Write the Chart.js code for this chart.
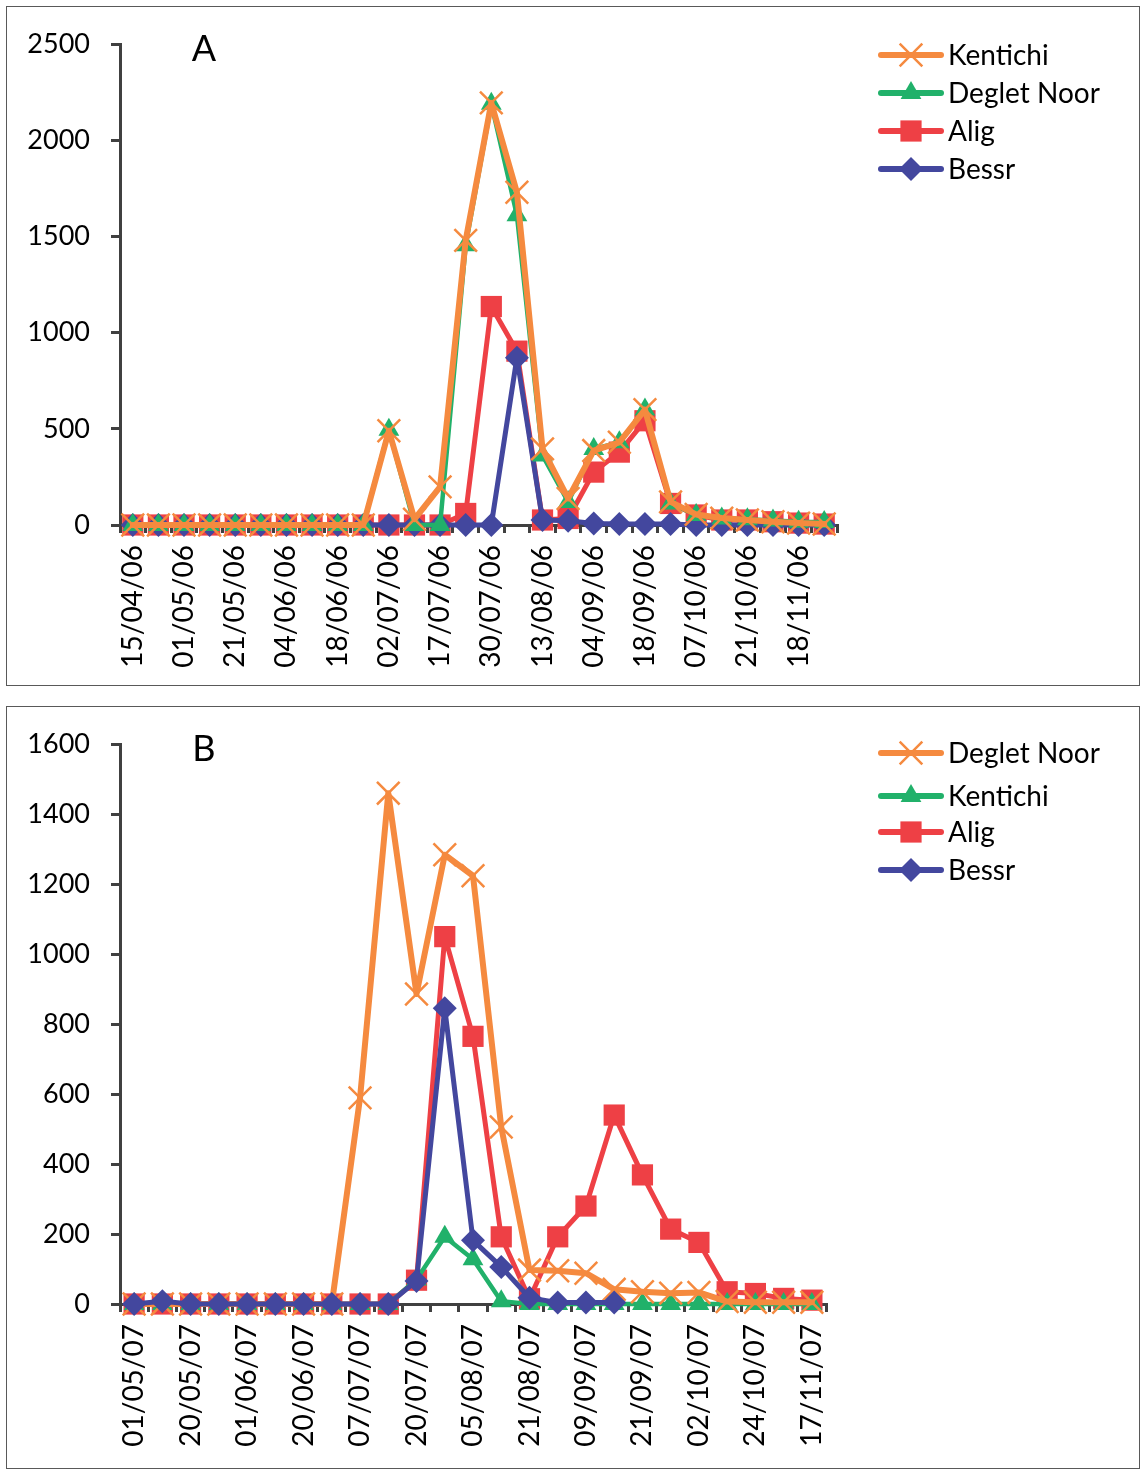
<!DOCTYPE html>
<html><head><meta charset="utf-8">
<script src="https://cdn.jsdelivr.net/npm/chart.js@4.4.1/dist/chart.umd.min.js"></script>
<style>
body{margin:0;background:#fff;width:1140px;height:1472px;position:relative;overflow:hidden;font-family:Lato}
.panel{position:absolute;left:6px;width:1134px;border:1px solid #595959;box-sizing:border-box;background:#fff}
#pA{top:6px;height:680px}
#pB{top:706px;height:763px}
canvas{position:absolute;left:0;top:0}
</style></head><body>
<div class="panel" id="pA"><canvas id="cA" width="1132" height="678"></canvas></div>
<div class="panel" id="pB"><canvas id="cB" width="1132" height="761"></canvas></div>
<script>
// ---------- Chart A (2006) ----------
const labelsA = ['15/04/06','','01/05/06','','21/05/06','','04/06/06','','18/06/06','','02/07/06','','17/07/06','','30/07/06','','13/08/06','','04/09/06','','18/09/06','','07/10/06','','21/10/06','','18/11/06',''];
const kentichiA = [0,0,0,0,0,0,0,0,0,0,490,30,198,1480,2195,1730,396,138,387,430,600,120,55,36,26,17,10,5];
const degletA   = [0,0,0,0,0,0,0,0,0,0,495,0,0,1455,2190,1610,362,120,395,430,600,112,52,34,30,24,17,15];
const aligA     = [0,0,0,0,0,0,0,0,0,0,0,0,0,60,1136,904,26,34,275,379,542,112,52,26,26,17,10,5];
const bessrA    = [0,0,0,0,0,0,0,0,0,0,0,0,0,0,0,870,26,22,8,5,5,5,0,0,0,0,0,0];
const yTicksA = {min:0, max:2500, step:500};

// ---------- Chart B (2007) ----------
const labelsB = ['01/05/07','','20/05/07','','01/06/07','','20/06/07','','07/07/07','','20/07/07','','05/08/07','','21/08/07','','09/09/07','','21/09/07','','02/10/07','','24/10/07','','17/11/07'];
const degletB   = [0,0,0,0,0,0,0,0,589,1460,886,1284,1224,506,97,95,88,42,35,31,33,7,5,5,5];
const kentichiB = [0,0,0,0,0,0,0,0,0,0,70,192,128,8,0,0,0,0,0,0,0,0,0,0,0];
const aligB     = [0,0,0,0,0,0,0,0,0,0,68,1050,765,192,15,192,280,540,369,214,176,35,30,16,11];
const bessrB    = [0,8,0,0,0,0,0,0,0,0,66,845,182,106,18,4,4,4,null,null,null,null,null,null,null];
const yTicksB = {min:0, max:1600, step:200};

const ORANGE='#F58A3F', GREEN='#21B16A', RED='#EE4045', BLUE='#43479E';
Chart.defaults.font.family = 'Lato';
Chart.defaults.color = '#000';

function styleCross(c){return {borderColor:c,backgroundColor:c,pointStyle:'crossRot',pointRadius:16,pointBorderWidth:2.5,pointBorderColor:c,pointBackgroundColor:c,borderWidth:6,clip:false};}
function styleTri(c){return {borderColor:c,backgroundColor:c,pointStyle:'triangle',pointRadius:12,pointBorderWidth:0,pointBorderColor:c,pointBackgroundColor:c,borderWidth:4.5,clip:false};}
function styleRect(c){return {borderColor:c,backgroundColor:c,pointStyle:'rect',pointRadius:15,pointBorderWidth:0,pointBorderColor:c,pointBackgroundColor:c,borderWidth:5,clip:false};}
function styleDia(c){return {borderColor:c,backgroundColor:c,pointStyle:'rectRot',pointRadius:12,pointBorderWidth:0,pointBorderColor:c,pointBackgroundColor:c,borderWidth:5,clip:false};}

const legendPlugin = {
  id:'customLegend',
  afterDraw(chart, args, o){
    const ctx = chart.ctx;
    ctx.save();
    ctx.font = '36px Lato'; ctx.fillStyle='#000'; ctx.textAlign='center'; ctx.textBaseline='middle';
    ctx.fillText(o.letter, o.letterX, o.letterY);
    chart.data.datasets.forEach((ds,k)=>{
      const y = o.ys[k];
      ctx.strokeStyle = ds.borderColor; ctx.lineWidth = 6; ctx.lineCap='round';
      ctx.beginPath(); ctx.moveTo(o.x1,y); ctx.lineTo(o.x2,y); ctx.stroke();
      ctx.fillStyle = ds.pointBackgroundColor; ctx.strokeStyle = ds.pointBorderColor;
      ctx.lineWidth = ds.pointBorderWidth; ctx.lineCap='butt';
      Chart.helpers.drawPoint(ctx,{pointStyle:ds.pointStyle,radius:ds.pointRadius,borderWidth:ds.pointBorderWidth,rotation:0},(o.x1+o.x2)/2,y);
      ctx.fillStyle='#000'; ctx.font='28px Lato'; ctx.textAlign='left'; ctx.textBaseline='middle';
      ctx.fillText(ds.label, o.tx, y+1);
    });
    ctx.restore();
  }
};

function makeChart(id, labels, datasets, yt, chartBottom, canvasH, legendOpts, right){
  return new Chart(document.getElementById(id), {
    type:'line',
    data:{labels, datasets},
    plugins:[legendPlugin],
    options:{
      responsive:false, animation:false, devicePixelRatio:1,
      layout:{padding:{left:0,right:right,top:legendOpts.top,bottom:0}},
      plugins:{legend:{display:false}, tooltip:{enabled:false}, customLegend:legendOpts},
      elements:{line:{tension:0,borderCapStyle:'round',borderJoinStyle:'round'}},
      scales:{
        x:{type:'category', offset:true,
           grid:{offset:true, drawOnChartArea:false, drawTicks:true, tickLength:8, color:'#404040', lineWidth:3},
           border:{display:true,color:'#404040',width:3},
           ticks:{autoSkip:false, maxRotation:90, minRotation:90, padding:12, font:{size:28}, color:'#000'},
           afterFit(s){ s.height = canvasH - chartBottom; }
        },
        y:{min:yt.min, max:yt.max,
           grid:{drawOnChartArea:false, drawTicks:true, tickLength:9, color:'#404040', lineWidth:3},
           border:{display:true,color:'#404040',width:3},
           ticks:{stepSize:yt.step, padding:21, font:{size:27}, color:'#000', callback:(v)=>String(v)},
           afterFit(s){ s.width = 113; }
        }
      }
    }
  });
}

makeChart('cA', labelsA, [
  Object.assign({label:'Kentichi', data:kentichiA, order:0}, styleCross(ORANGE)),
  Object.assign({label:'Deglet Noor', data:degletA, order:1}, styleTri(GREEN)),
  Object.assign({label:'Alig', data:aligA, order:3}, styleRect(RED)),
  Object.assign({label:'Bessr', data:bessrA, order:2}, styleDia(BLUE))
], yTicksA, 518, 678, {top:34, letter:'A', letterX:197, letterY:42, ys:[48,86,124,162], x1:874, x2:934, tx:941}, 1132-830);

makeChart('cB', labelsB, [
  Object.assign({label:'Deglet Noor', data:degletB, order:1}, styleCross(ORANGE)),
  Object.assign({label:'Kentichi', data:kentichiB, order:2}, styleTri(GREEN)),
  Object.assign({label:'Alig', data:aligB, order:3}, styleRect(RED)),
  Object.assign({label:'Bessr', data:bessrB, order:0}, styleDia(BLUE))
], yTicksB, 597, 761, {top:33, letter:'B', letterX:197, letterY:42, ys:[46,89,125,163], x1:874, x2:934, tx:941}, 1132-819);
</script>
</body></html>
